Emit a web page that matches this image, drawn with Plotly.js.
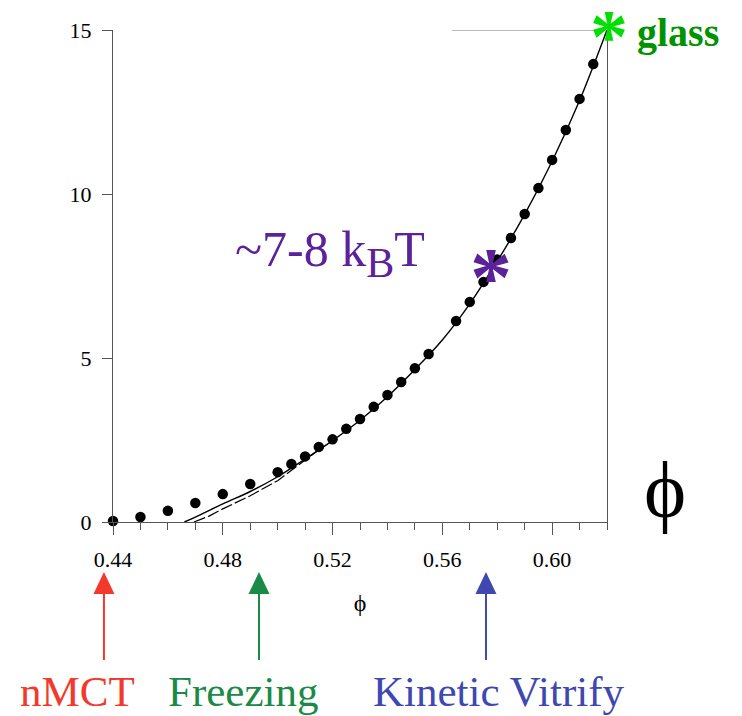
<!DOCTYPE html>
<html>
<head>
<meta charset="utf-8">
<script src="https://cdn.plot.ly/plotly-3.0.1.min.js"></script>
<style>html,body{margin:0;padding:0;background:#fff;}#chart{width:742px;height:716px;}</style>
</head>
<body>
<div id="chart"></div>
<script>
// Measured barrier (dots)
var phiData = [0.44,0.45,0.46,0.47,0.48,0.49,0.50,0.505,0.51,0.515,0.52,0.525,0.53,0.535,0.54,0.545,0.55,0.555,0.565,0.57,0.575,0.58,0.585,0.59,0.595,0.60,0.605,0.61,0.615];
var barrierData = [0.03,0.15,0.34,0.58,0.85,1.16,1.52,1.77,2.0,2.29,2.52,2.84,3.14,3.51,3.87,4.27,4.69,5.12,6.13,6.71,7.32,8.0,8.66,9.39,10.18,11.04,11.95,12.9,13.96];
// Solid theory curve
var phiSolid = [0.466,0.47,0.48,0.49,0.50,0.51,0.52,0.53,0.54,0.55,0.56,0.57,0.58,0.59,0.60,0.61,0.62];
var barrierSolid = [0,0.15,0.55,0.93,1.38,1.92,2.48,3.1,3.82,4.65,5.55,6.65,7.95,9.38,11.0,12.85,15.0];
// Dashed curve
var phiDashed = [0.4695,0.475,0.48,0.49,0.50,0.505,0.51,0.515];
var barrierDashed = [0,0.18,0.4,0.8,1.26,1.58,1.9,2.2];
// Special points
var glassPhi = [0.62], glassBarrier = [15];
var vitPhi = [0.5785], vitBarrier = [7.8];
// Arrow markers (phi positions)
var arrowPhi = [0.4367, 0.4932, 0.5759];
var arrowLabels = ['nMCT', 'Freezing', 'Kinetic Vitrify'];
var arrowColors = ['#f2392b', '#1b8a47', '#3f47b1'];
var labelPhi = [0.4269, 0.4873, 0.5803];
// Axis ticks
var xTickVals = [0.44,0.48,0.52,0.56,0.60];
var xTickText = ['0.44','0.48','0.52','0.56','0.60'];
var yTickVals = [0,5,10,15];

var X0 = 0.44, X1 = 0.62;
var PLOT_W = 494, PLOT_H = 492;
function toPaper(phi) { return (phi - X0) / (X1 - X0); }

var serif = '"Liberation Serif", "Times New Roman", serif';

var traces = [
  {x: phiDashed, y: barrierDashed, mode: 'lines', line: {color: '#000', width: 1.2, dash: '12px,3px'}, hoverinfo: 'skip'},
  {x: phiSolid, y: barrierSolid, mode: 'lines', line: {color: '#000', width: 1.4, shape: 'spline'}, hoverinfo: 'skip'},
  {x: phiData, y: barrierData, mode: 'markers', marker: {color: '#000', size: 10.5}, cliponaxis: false}
];

var annotations = [];
// Asterisks
annotations.push({x: glassPhi[0], y: glassBarrier[0], xref: 'x', yref: 'y', text: '<b>*</b>', showarrow: false,
  font: {family: serif, size: 76, color: '#00e000'}, xanchor: 'center', yanchor: 'middle', yshift: -6, xshift: 2});
annotations.push({x: vitPhi[0], y: vitBarrier[0], xref: 'x', yref: 'y', text: '<b>*</b>', showarrow: false,
  font: {family: serif, size: 84, color: '#5b2299'}, xanchor: 'center', yanchor: 'middle', yshift: -11, xshift: -2});
annotations.push({x: glassPhi[0], y: glassBarrier[0], xref: 'x', yref: 'y', text: '<b>glass</b>', showarrow: false,
  font: {family: serif, size: 40, color: '#009300'}, xanchor: 'left', yanchor: 'middle', xshift: 28, yshift: -2});
annotations.push({x: 0.5192, y: 8.2, xref: 'x', yref: 'y', text: '~7-8 k<sub><span style="font-size:42px">B</span></sub>T', showarrow: false,
  font: {family: serif, size: 50, color: '#5b2299'}, xanchor: 'center', yanchor: 'middle'});
// Big phi
annotations.push({x: 1.117, y: 0.066, xref: 'paper', yref: 'paper', text: 'ϕ', showarrow: false,
  font: {family: serif, size: 80, color: '#000'}, xanchor: 'center', yanchor: 'middle'});

// Arrows (line + triangular head) and labels
var shapes = [
  {type: 'line', xref: 'x', yref: 'y', x0: 0.5635, x1: 0.62, y0: 15, y1: 15, line: {color: '#777', width: 1}}
];
var tipY = -50 / PLOT_H, baseY = -72 / PLOT_H, tailY = -138 / PLOT_H, halfW = 10.5 / PLOT_W;
for (var i = 0; i < arrowPhi.length; i++) {
  var px = toPaper(arrowPhi[i]);
  shapes.push({type: 'line', xref: 'paper', yref: 'paper', x0: px, x1: px, y0: baseY, y1: tailY,
    line: {color: arrowColors[i], width: 2}});
  shapes.push({type: 'path', xref: 'paper', yref: 'paper',
    path: 'M' + (px - halfW) + ',' + baseY + ' L' + px + ',' + tipY + ' L' + (px + halfW) + ',' + baseY + ' Z',
    fillcolor: arrowColors[i], line: {width: 0}});
  annotations.push({x: toPaper(labelPhi[i]), y: -0.345, xref: 'paper', yref: 'paper', text: arrowLabels[i], showarrow: false,
    font: {family: serif, size: 43, color: arrowColors[i]}, xanchor: 'center', yanchor: 'middle'});
}

var layout = {
  width: 742, height: 716,
  margin: {l: 113, r: 135, t: 30, b: 194},
  paper_bgcolor: '#fff', plot_bgcolor: '#fff',
  showlegend: false,
  font: {family: serif, color: '#000'},
  xaxis: {
    range: [X0, X1], showgrid: false, zeroline: false,
    showline: true, linecolor: '#555', linewidth: 1,
    ticks: 'outside', ticklen: 12, tickcolor: '#555', tickwidth: 1,
    tickvals: xTickVals, ticktext: xTickText,
    tickfont: {family: serif, size: 22, color: '#000'},
    ticklabelstandoff: 6,
    minor: {dtick: 0.01, tick0: 0.44, ticks: 'outside', ticklen: 7, tickcolor: '#555', tickwidth: 1},
    title: {text: 'ϕ', font: {family: serif, size: 24, color: '#000'}, standoff: 22}
  },
  yaxis: {
    range: [0, 15], showgrid: false, zeroline: false,
    showline: true, linecolor: '#555', linewidth: 1, mirror: true,
    ticks: 'outside', ticklen: 10, tickcolor: '#555', tickwidth: 1,
    tickvals: yTickVals,
    tickfont: {family: serif, size: 22, color: '#000'},
    ticklabelstandoff: 6
  },
  shapes: shapes,
  annotations: annotations
};

Plotly.newPlot('chart', traces, layout, {displayModeBar: false, staticPlot: true});
</script>
</body>
</html>
